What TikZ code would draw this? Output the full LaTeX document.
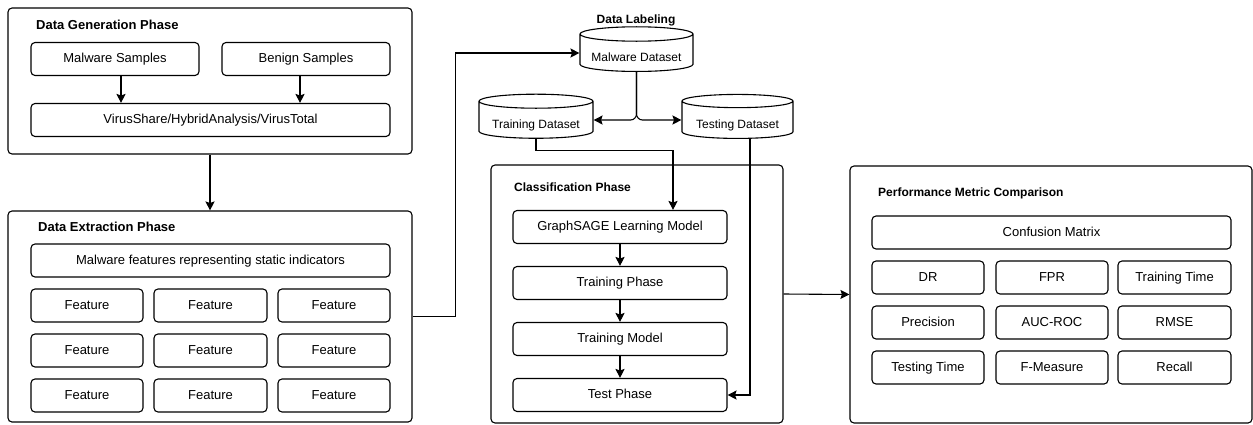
\documentclass[tikz,border=0pt]{standalone}
\usepackage{fontspec}
\setmainfont{Liberation Sans}
\usetikzlibrary{arrows.meta,shapes.geometric}
\begin{document}
\begin{tikzpicture}[x=1pt,y=-1pt,
  phase/.style={draw, rounded corners=4pt, line width=1.1pt, inner sep=0pt},
  block/.style={draw, rounded corners=4pt, line width=1.1pt, inner sep=0pt, minimum height=33pt, text height=9.5pt, text depth=2.5pt, font=\fontsize{13}{15}\selectfont},
  title/.style={anchor=west, inner sep=0pt, font=\fontsize{13}{15}\selectfont\bfseries},
  dbase/.style={draw, cylinder, shape border rotate=90, aspect=0.16, line width=1.1pt, inner sep=0pt, minimum height=44pt, text height=20pt, text depth=2.5pt, font=\fontsize{12}{14}\selectfont},
  flow/.style={-{Stealth[length=9pt,width=9pt,inset=1.5pt]}, line width=1.1pt}]
\useasboundingbox (0,0) rectangle (1253,424);
\node[phase, minimum width=404pt, minimum height=146pt] (gen) at (210,81){};
\node[title] (gentitle) at (36,25){Data Generation Phase};
\node[block, minimum width=168pt] (malsam) at (115,59){Malware Samples};
\node[block, minimum width=168pt] (bensam) at (306,59){Benign Samples};
\node[block, minimum width=359pt] (vtotal) at (210.5,120){VirusShare/HybridAnalysis/VirusTotal};
\draw[flow]([xshift=6pt]malsam.south) -- ([xshift=6pt]malsam.south |- vtotal.north);
\draw[flow]([xshift=-6pt]bensam.south) -- ([xshift=-6pt]bensam.south |- vtotal.north);
\node[phase, minimum width=404pt, minimum height=211pt] (ext) at (210,316.5){};
\node[title] (exttitle) at (38,227){Data Extraction Phase};
\node[block, minimum width=359pt] (malfeat) at (210.5,260.5){Malware features representing static indicators};
\node[block, minimum width=112pt] (feat1) at (87,305.5){Feature};
\node[block, minimum width=113pt] (feat2) at (210.5,305.5){Feature};
\node[block, minimum width=112pt] (feat3) at (334,305.5){Feature};
\node[block, minimum width=112pt] (feat4) at (87,350.5){Feature};
\node[block, minimum width=113pt] (feat5) at (210.5,350.5){Feature};
\node[block, minimum width=112pt] (feat6) at (334,350.5){Feature};
\node[block, minimum width=112pt] (feat7) at (87,395.5){Feature};
\node[block, minimum width=113pt] (feat8) at (210.5,395.5){Feature};
\node[block, minimum width=112pt] (feat9) at (334,395.5){Feature};
\draw[flow](gen.south) -- (ext.north);
\node[title, anchor=center, font=\fontsize{12}{14}\selectfont\bfseries] (labtitle) at (636,20){Data Labeling};
\node[dbase, minimum width=113pt] (maldata) at (636.5,53){Malware Dataset};
\node[dbase, minimum width=114pt] (traindata) at (536,120){Training Dataset};
\node[dbase, minimum width=111pt] (testdata) at (737.5,120){Testing Dataset};
\draw[flow](ext.east) -- ++(43,0) |- (maldata.west);
\draw[flow, rounded corners=6pt](maldata.south) |- (traindata.east);
\draw[flow, rounded corners=6pt](maldata.south) |- (testdata.west);
\node[phase, minimum width=292pt, minimum height=258pt] (cls) at (637,294){};
\node[title, font=\fontsize{12}{14}\selectfont\bfseries] (clstitle) at (514,187){Classification Phase};
\node[block, minimum width=214pt] (sage) at (620,227){GraphSAGE Learning Model};
\node[block, minimum width=214pt] (trphase) at (620,283){Training Phase};
\node[block, minimum width=214pt] (trmodel) at (620,339){Training Model};
\node[block, minimum width=214pt] (tsphase) at (620,395){Test Phase};
\draw[flow](traindata.south) -- ++(0,12) -| ([xshift=53pt]sage.north);
\draw[flow]([xshift=12.5pt]testdata.south) |- (tsphase.east);
\draw[flow](sage) -- (trphase);
\draw[flow](trphase) -- (trmodel);
\draw[flow](trmodel) -- (tsphase);
\node[phase, minimum width=402pt, minimum height=257pt] (perf) at (1051,294.5){};
\node[title, font=\fontsize{12}{14}\selectfont\bfseries] (perftitle) at (878,193){Performance Metric Comparison};
\node[block, minimum width=359pt] (confmat) at (1051.5,232.5){Confusion Matrix};
\node[block, minimum width=112pt] (mdr) at (928,277.5){DR};
\node[block, minimum width=112pt] (mfpr) at (1052,277.5){FPR};
\node[block, minimum width=113pt] (mtrtime) at (1174.5,277.5){Training Time};
\node[block, minimum width=112pt] (mprec) at (928,322.5){Precision};
\node[block, minimum width=112pt] (mauc) at (1052,322.5){AUC-ROC};
\node[block, minimum width=113pt] (mrmse) at (1174.5,322.5){RMSE};
\node[block, minimum width=112pt] (mtstime) at (928,367.5){Testing Time};
\node[block, minimum width=112pt] (mfmeas) at (1052,367.5){F-Measure};
\node[block, minimum width=113pt] (mrecall) at (1174.5,367.5){Recall};
\draw[flow](cls.east) -- (perf.west);
\end{tikzpicture}
\end{document}
